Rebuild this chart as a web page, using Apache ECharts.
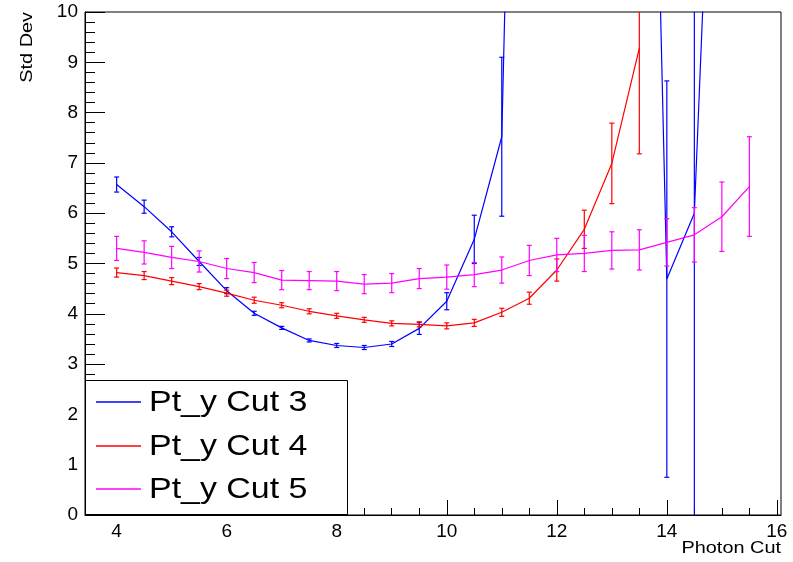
<!DOCTYPE html>
<html>
<head>
<meta charset="utf-8">
<script src="https://cdn.jsdelivr.net/npm/echarts@6/dist/echarts.min.js"></script>
<style>
    html, body {margin: 0; padding: 0; background: #fff;}
    #chart {width: 793px; height: 562px;}
</style>
</head>
<body>
<div id="chart"></div>
<script>
// photon cut values
let photonCut = [4, 4.5, 5, 5.5, 6, 6.5, 7, 7.5, 8, 8.5, 9, 9.5, 10, 10.5, 11, 11.5, 12, 12.5, 13, 13.5, 14, 14.5, 15, 15.5];

// Pt_y Cut 3 (goes off the top between 11 and 14)
let cut3Val = [6.57, 6.13, 5.63, 5.04, 4.46, 4.01, 3.72, 3.47, 3.37, 3.33, 3.40, 3.71, 4.25, 5.48, 7.52, 30.5, 34, 38, 32, 28, 4.69, 6.0, 19.3];
let cut3Err = [0.15, 0.13, 0.10, 0.08, 0.06, 0.04, 0.03, 0.03, 0.04, 0.04, 0.05, 0.12, 0.17, 0.48, 1.58, 5, 5, 5, 5, 5, 3.94, 8, 5];

// Pt_y Cut 4
let cut4Val = [4.82, 4.76, 4.65, 4.54, 4.41, 4.27, 4.17, 4.05, 3.96, 3.88, 3.81, 3.79, 3.76, 3.82, 4.03, 4.31, 4.87, 5.68, 6.99, 9.28];
let cut4Err = [0.09, 0.08, 0.07, 0.06, 0.06, 0.06, 0.05, 0.05, 0.05, 0.05, 0.05, 0.05, 0.06, 0.07, 0.08, 0.12, 0.22, 0.38, 0.80, 2.1];

// Pt_y Cut 5
let cut5Val = [5.30, 5.22, 5.12, 5.04, 4.90, 4.82, 4.67, 4.66, 4.65, 4.59, 4.61, 4.70, 4.73, 4.78, 4.87, 5.06, 5.17, 5.20, 5.26, 5.27, 5.42, 5.57, 5.93, 6.53];
let cut5Err = [0.24, 0.23, 0.22, 0.21, 0.20, 0.20, 0.19, 0.18, 0.19, 0.19, 0.19, 0.20, 0.24, 0.24, 0.26, 0.30, 0.33, 0.36, 0.37, 0.40, 0.47, 0.54, 0.69, 0.99];

let xMajor = [4, 6, 8, 10, 12, 14, 16];
let xMinor = [3.5, 4, 4.5, 5, 5.5, 6, 6.5, 7, 7.5, 8, 8.5, 9, 9.5, 10, 10.5, 11, 11.5, 12, 12.5, 13, 13.5, 14, 14.5, 15, 15.5, 16];
let legendNames = ["Pt_y Cut 3", "Pt_y Cut 4", "Pt_y Cut 5"];
let colors = ["#0000ff", "#ff0000", "#ff00ff"];

let font = "Liberation Sans, Arial, Helvetica, sans-serif";

function pairs(vals) {
    let out = [];
    for (let i = 0; i < vals.length; i++) {
        out.push([photonCut[i], vals[i]]);
    }
    return out;
}

function triples(vals, errs) {
    let out = [];
    for (let i = 0; i < vals.length; i++) {
        out.push([photonCut[i], vals[i], errs[i]]);
    }
    return out;
}

function errorBars(params, api) {
    let cs = params.coordSys;
    let x = api.value(0);
    let y = api.value(1);
    let e = api.value(2);
    let top = api.coord([x, y + e]);
    let bot = api.coord([x, y - e]);
    let yMin = cs.y, yMax = cs.y + cs.height;
    let y1 = Math.max(top[1], yMin), y2 = Math.min(bot[1], yMax);
    if (y1 >= y2) {
        return null;
    }
    let style = {stroke: api.visual("color"), lineWidth: 1.2};
    let kids = [{type: "line", shape: {x1: top[0], y1: y1, x2: top[0], y2: y2}, style: style}];
    if (top[1] >= yMin && top[1] <= yMax) {
        kids.push({type: "line", shape: {x1: top[0] - 2.5, y1: top[1], x2: top[0] + 2.5, y2: top[1]}, style: style});
    }
    if (bot[1] >= yMin && bot[1] <= yMax) {
        kids.push({type: "line", shape: {x1: bot[0] - 2.5, y1: bot[1], x2: bot[0] + 2.5, y2: bot[1]}, style: style});
    }
    return {type: "group", children: kids};
}

let allVals = [cut3Val, cut4Val, cut5Val];
let allErrs = [cut3Err, cut4Err, cut5Err];
let series = [];
for (let i = 0; i < 3; i++) {
    series.push({
        name: legendNames[i],
        type: "line",
        data: pairs(allVals[i]),
        showSymbol: false,
        symbol: "none",
        color: colors[i],
        lineStyle: {width: 1.2, color: colors[i]},
        clip: true,
        animation: false,
        z: 3 + i
    });
    series.push({
        name: legendNames[i] + " err",
        type: "custom",
        data: triples(allVals[i], allErrs[i]),
        encode: {x: 0, y: 1},
        renderItem: errorBars,
        color: colors[i],
        animation: false,
        z: 3 + i
    });
}

// legend box drawn by hand, ROOT style
let legendGraphics = [{
    type: "rect",
    shape: {x: 85.5, y: 380.5, width: 262, height: 134},
    style: {fill: "#fff", stroke: "#000", lineWidth: 1},
    z: 100
}];
let legY = [402, 446, 489];
for (let i = 0; i < 3; i++) {
    legendGraphics.push({
        type: "line",
        shape: {x1: 96, y1: legY[i], x2: 141, y2: legY[i]},
        style: {stroke: colors[i], lineWidth: 1.5},
        z: 101
    });
    legendGraphics.push({
        type: "text",
        x: 149,
        y: legY[i] + 1,
        scaleX: 1.17,
        style: {text: legendNames[i], fill: "#000", font: "29px " + font, textAlign: "left", textVerticalAlign: "middle"},
        z: 101
    });
}
legendGraphics.push({
    type: "text",
    x: 781,
    y: 557,
    style: {text: "Photon Cut", fill: "#000", font: "17px " + font, textAlign: "right", textVerticalAlign: "bottom"},
    scaleX: 1.17,
    originX: 0,
    z: 100
});
legendGraphics.push({
    type: "text",
    x: 36,
    y: 12,
    rotation: Math.PI / 2,
    scaleX: 1.17,
    style: {text: "Std Dev", fill: "#000", font: "17px " + font, textAlign: "right", textVerticalAlign: "bottom"},
    z: 100
});

let chart = echarts.init(document.getElementById("chart"), null, {renderer: "canvas"});
chart.setOption({
    backgroundColor: "#fff",
    animation: false,
    grid: {left: 85, right: 12, top: 12, bottom: 47, show: true, borderColor: "#000", borderWidth: 1, backgroundColor: "transparent"},
    xAxis: [{
        type: "value",
        min: 3.425,
        max: 16.075,
        axisLine: {show: true, onZero: false, lineStyle: {color: "#000", width: 1}},
        axisTick: {show: true, inside: true, length: 15, customValues: xMajor, lineStyle: {color: "#000"}},
        axisLabel: {customValues: xMajor, color: "#000", fontSize: 19, fontFamily: font, margin: 7},
        splitLine: {show: false}
    }, {
        type: "value",
        min: 3.425,
        max: 16.075,
        position: "bottom",
        axisLine: {show: false},
        axisTick: {show: true, inside: true, length: 7, customValues: xMinor, lineStyle: {color: "#000"}},
        axisLabel: {show: false},
        splitLine: {show: false}
    }],
    yAxis: {
        type: "value",
        min: 0,
        max: 10,
        interval: 1,
        axisLine: {show: true, onZero: false, lineStyle: {color: "#000", width: 1}},
        axisTick: {show: true, inside: true, length: 20, lineStyle: {color: "#000"}},
        minorTick: {show: true, splitNumber: 5, length: 10, lineStyle: {color: "#000"}},
        axisLabel: {color: "#000", fontSize: 19, fontFamily: font, margin: 7},
        splitLine: {show: false}
    },
    graphic: legendGraphics,
    series: series
});
</script>
</body>
</html>
